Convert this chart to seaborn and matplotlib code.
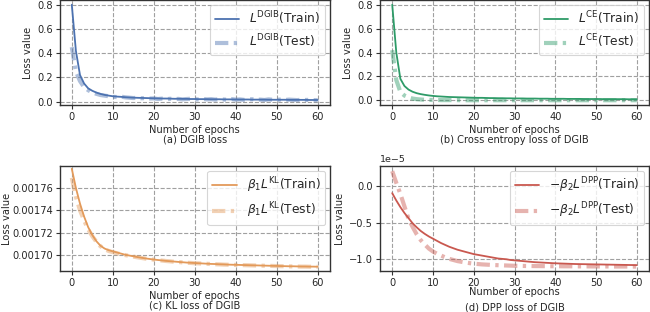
import numpy as np
import pandas as pd
import matplotlib
matplotlib.use("Agg")
import matplotlib.pyplot as plt
import seaborn as sns
from matplotlib.ticker import MultipleLocator, FormatStrFormatter

epochs = list(range(61))

dgib_train = [0.80, 0.42, 0.22, 0.15, 0.11, 0.090, 0.075, 0.064, 0.056, 0.050,
              0.045, 0.042, 0.040, 0.037, 0.035, 0.033, 0.032, 0.031, 0.030, 0.029,
              0.028, 0.027, 0.026, 0.026, 0.025, 0.024, 0.024, 0.023, 0.023, 0.022,
              0.022, 0.021, 0.021, 0.021, 0.020, 0.020, 0.020, 0.019, 0.019, 0.019,
              0.018, 0.018, 0.018, 0.018, 0.017, 0.017, 0.017, 0.017, 0.016, 0.016,
              0.016, 0.016, 0.016, 0.015, 0.015, 0.015, 0.015, 0.015, 0.014, 0.014,
              0.014]
dgib_test = [0.45, 0.25, 0.17, 0.12, 0.095, 0.075, 0.065, 0.055, 0.050, 0.045,
             0.040, 0.038, 0.042, 0.036, 0.033, 0.030, 0.032, 0.028, 0.030, 0.026,
             0.027, 0.022, 0.025, 0.020, 0.024, 0.021, 0.023, 0.019, 0.022, 0.024,
             0.020, 0.018, 0.022, 0.019, 0.021, 0.017, 0.020, 0.018, 0.016, 0.021,
             0.017, 0.019, 0.015, 0.018, 0.020, 0.016, 0.017, 0.014, 0.019, 0.016,
             0.015, 0.018, 0.014, 0.017, 0.015, 0.013, 0.016, 0.014, 0.015, 0.013,
             0.012]

ce_train = [0.80, 0.40, 0.18, 0.12, 0.090, 0.072, 0.060, 0.052, 0.046, 0.041,
            0.037, 0.034, 0.032, 0.030, 0.028, 0.027, 0.026, 0.025, 0.024, 0.023,
            0.022, 0.021, 0.021, 0.020, 0.019, 0.019, 0.018, 0.018, 0.017, 0.017,
            0.016, 0.016, 0.016, 0.015, 0.015, 0.015, 0.014, 0.014, 0.014, 0.013,
            0.013, 0.013, 0.013, 0.012, 0.012, 0.012, 0.012, 0.011, 0.011, 0.011,
            0.011, 0.011, 0.010, 0.010, 0.010, 0.010, 0.010, 0.010, 0.009, 0.009,
            0.009]
ce_test = [0.42, 0.17, 0.07, 0.040, 0.025, 0.015, 0.010, 0.007, 0.005, 0.004,
           0.003, 0.003, 0.002, 0.002, 0.002, 0.002, 0.002, 0.001, 0.001, 0.001,
           0.001, 0.001, 0.001, 0.001, 0.001, 0.001, 0.001, 0.001, 0.001, 0.001,
           0.001, 0.001, 0.001, 0.001, 0.001, 0.001, 0.001, 0.001, 0.001, 0.001,
           0.001, 0.001, 0.001, 0.001, 0.001, 0.001, 0.001, 0.001, 0.001, 0.001,
           0.001, 0.001, 0.001, 0.001, 0.001, 0.001, 0.001, 0.001, 0.001, 0.001,
           0.001]

# in units of 1e-3
kl_train_e3 = [1.7770, 1.7600, 1.7460, 1.7345, 1.7250, 1.7180, 1.7125, 1.7085, 1.7060, 1.7045,
               1.7035, 1.7025, 1.7015, 1.7005, 1.6998, 1.6991, 1.6984, 1.6978, 1.6972, 1.6967,
               1.6962, 1.6958, 1.6954, 1.6950, 1.6947, 1.6944, 1.6941, 1.6938, 1.6935, 1.6933,
               1.6931, 1.6929, 1.6927, 1.6925, 1.6923, 1.6922, 1.6920, 1.6919, 1.6917, 1.6916,
               1.6915, 1.6914, 1.6913, 1.6912, 1.6911, 1.6910, 1.6909, 1.6908, 1.6907, 1.6906,
               1.6905, 1.6904, 1.6903, 1.6902, 1.6902, 1.6901, 1.6900, 1.6900, 1.6899, 1.6899,
               1.6898]
kl_test_e3 = [1.7690, 1.7520, 1.7400, 1.7310, 1.7230, 1.7170, 1.7120, 1.7080, 1.7055, 1.7038,
              1.7028, 1.7018, 1.7010, 1.7002, 1.6995, 1.6988, 1.6982, 1.6976, 1.6970, 1.6966,
              1.6961, 1.6956, 1.6953, 1.6949, 1.6946, 1.6942, 1.6940, 1.6937, 1.6933, 1.6932,
              1.6929, 1.6928, 1.6925, 1.6924, 1.6922, 1.6920, 1.6919, 1.6917, 1.6916, 1.6915,
              1.6914, 1.6913, 1.6912, 1.6911, 1.6910, 1.6909, 1.6908, 1.6907, 1.6906, 1.6905,
              1.6904, 1.6903, 1.6902, 1.6901, 1.6901, 1.6900, 1.6899, 1.6899, 1.6898, 1.6898,
              1.6897]

# in units of 1e-5
dpp_train_e5 = [-0.10, -0.20, -0.29, -0.37, -0.44, -0.51, -0.565, -0.615, -0.655, -0.69,
                -0.72, -0.75, -0.78, -0.805, -0.83, -0.85, -0.87, -0.885, -0.90, -0.915,
                -0.93, -0.94, -0.95, -0.96, -0.97, -0.98, -0.99, -0.995, -1.00, -1.01,
                -1.015, -1.02, -1.025, -1.03, -1.035, -1.04, -1.043, -1.046, -1.049, -1.052,
                -1.055, -1.057, -1.059, -1.061, -1.063, -1.065, -1.066, -1.067, -1.068, -1.069,
                -1.070, -1.071, -1.072, -1.073, -1.074, -1.075, -1.076, -1.077, -1.078, -1.079,
                -1.080]
dpp_test_e5 = [0.20, 0.04, -0.11, -0.28, -0.45, -0.56, -0.66, -0.74, -0.80, -0.855,
               -0.895, -0.925, -0.95, -0.975, -0.995, -1.01, -1.025, -1.035, -1.045, -1.053,
               -1.06, -1.065, -1.07, -1.073, -1.076, -1.079, -1.081, -1.083, -1.085, -1.087,
               -1.089, -1.090, -1.091, -1.092, -1.092, -1.093, -1.093, -1.094, -1.094, -1.095,
               -1.095, -1.095, -1.096, -1.096, -1.096, -1.097, -1.097, -1.097, -1.097, -1.098,
               -1.098, -1.098, -1.098, -1.098, -1.099, -1.099, -1.099, -1.099, -1.099, -1.100,
               -1.100]

panels = [
    ("(a) DGIB loss", r"$L^{\mathrm{DGIB}}$", dgib_train, dgib_test, 1.0, "#4c72b0"),
    ("(b) Cross entropy loss of DGIB", r"$L^{\mathrm{CE}}$", ce_train, ce_test, 1.0, "#2e9b68"),
    ("(c) KL loss of DGIB", r"$\beta_1L^{\mathrm{KL}}$", kl_train_e3, kl_test_e3, 1e-3, "#e39a5a"),
    ("(d) DPP loss of DGIB", r"$-\beta_2L^{\mathrm{DPP}}$", dpp_train_e5, dpp_test_e5, 1e-5, "#c9584f"),
]

sns.set_style("whitegrid")
plt.rcParams["font.family"] = ["DejaVu Sans"]
plt.rcParams["mathtext.fontset"] = "dejavusans"

fig = plt.figure(figsize=(6.5, 3.12), dpi=100)
W, H = 650.0, 312.0
boxes = [
    (59.5, 0.0, 330.0, 105.0),
    (380.0, 0.0, 649.0, 105.0),
    (59.5, 166.0, 330.0, 271.0),
    (380.0, 166.0, 649.0, 271.0),
]
FS = 7.1

for i, ((cap, lab, tr, te, scale, col), (x0, y0, x1, y1)) in enumerate(zip(panels, boxes)):
    ax = fig.add_axes([x0 / W, 1 - y1 / H, (x1 - x0) / W, (y1 - y0) / H])
    df = pd.DataFrame({
        "epoch": epochs,
        "train": np.array(tr) * scale,
        "test": np.array(te) * scale,
    })
    sns.lineplot(data=df, x="epoch", y="train", ax=ax, color=col, lw=1.3,
                 label=lab + "(Train)")
    sns.lineplot(data=df, x="epoch", y="test", ax=ax, color=col, lw=3.0,
                 alpha=0.45, label=lab + "(Test)")
    ax.lines[-1].set_dashes((3.2, 1.3, 0.8, 1.3))
    ax.set_xlim(-3, 63)
    ax.set_xticks([0, 10, 20, 30, 40, 50, 60])
    ax.grid(True, linestyle="--", color="#a0a0a0", lw=0.8)
    for s in ax.spines.values():
        s.set_color("#333333")
        s.set_linewidth(1.0)
    ax.tick_params(axis="both", labelsize=FS, length=3, width=0.8,
                   color="#333333", pad=2, bottom=True, left=True)
    ax.set_xlabel("Number of epochs", fontsize=FS, labelpad=2)
    ax.set_ylabel("Loss value", fontsize=FS, labelpad=3)
    if i == 2:
        ax.set_ylim(0.001686, 0.0017795)
        ax.yaxis.set_major_locator(MultipleLocator(0.00002))
        ax.yaxis.set_major_formatter(FormatStrFormatter("%.5f"))
        ax.tick_params(axis="y", pad=1.5)
        ax.yaxis.labelpad = 0.5
    if i == 3:
        ax.set_ylim(-1.16e-5, 0.27e-5)
        ax.yaxis.set_major_locator(MultipleLocator(0.5e-5))
        ax.yaxis.get_offset_text().set_fontsize(6.8)
        ax.xaxis.labelpad = -1
    leg = ax.legend(loc="upper right", fontsize=8.8, frameon=True, fancybox=True,
                    labelspacing=0.45, handlelength=2.0, borderpad=0.4,
                    borderaxespad=0.4)
    leg.get_frame().set_edgecolor("#cccccc")
    leg.get_frame().set_linewidth(0.8)
    ycap = -0.33 if i < 2 else -0.325
    if i == 3:
        ycap = -0.35
    ax.text(0.5, ycap, cap, transform=ax.transAxes, ha="center", va="center",
            fontsize=FS)

fig.savefig("out.png", dpi=100)
